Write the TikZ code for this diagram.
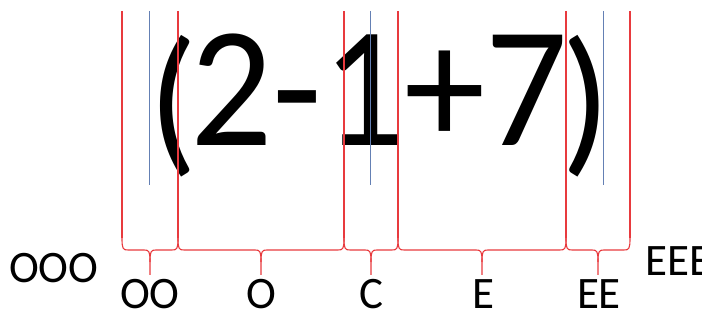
\documentclass[tikz,border=0pt]{standalone}
\usepackage{fontspec}
\setmainfont{Carlito}
\definecolor{bracered}{RGB}{232,58,62}
\definecolor{guideblue}{RGB}{100,128,180}
\newcommand{\bigparen}[1]{{\fontsize{163}{170}\selectfont\raisebox{-9pt}{#1}}}
\begin{document}
\begin{tikzpicture}[x=1pt,y=-1pt,
  redline/.style={draw=bracered,line width=1.1pt},
  blueline/.style={draw=guideblue,line width=0.8pt},
  lbl/.style={inner sep=0pt,font=\fontsize{45}{50}\selectfont},
  bigtxt/.style={inner sep=0pt,font=\fontsize{172}{180}\selectfont}]
\useasboundingbox (0,0) rectangle (702,320);
% big expression
\node[bigtxt,anchor=base west] (expr) at (148,146)
  {\bigparen{(}\kern-7.4pt\scalebox{0.945}[1]{2-1+7}\kern-6.9pt\bigparen{)}};
% guide lines
\foreach \x/\n in {122/a,178/b,344/c,398/d,566/e,630/f}{
  \coordinate (t\n) at (\x,11);
  \coordinate (m\n) at (\x,238);
  \draw[redline] (t\n) -- (m\n);
}
\foreach \x/\n in {149/p,370/q,603/r}{
  \coordinate (bt\n) at (\x,11);
  \coordinate (bb\n) at (\x,185);
  \draw[blueline] (bt\n) -- (bb\n);
}
% braces
\foreach \xa/\xb in {122/178,178/344,344/398,398/566,566/630}{
  \pgfmathsetmacro{\xm}{(\xa+\xb)/2}
  \draw[redline] (\xa,238) .. controls (\xa,249) and (\xa+1,250) .. (\xa+6,250)
    -- (\xm-6,250) .. controls (\xm-1,250) and (\xm,251) .. (\xm,262) -- (\xm,275);
  \draw[redline] (\xb,238) .. controls (\xb,249) and (\xb-1,250) .. (\xb-6,250)
    -- (\xm+6,250) .. controls (\xm+1,250) and (\xm,251) .. (\xm,262);
}
% labels
\node[lbl,anchor=base west] (ooo) at (9,283) {OOO};
\node[lbl,anchor=base] (oo) at (150,309) {OO};
\node[lbl,anchor=base] (o) at (261,309) {O};
\node[lbl,anchor=base] (c) at (371,309) {C};
\node[lbl,anchor=base] (e) at (483,309) {E};
\node[lbl,anchor=base] (ee) at (599,309) {EE};
\node[lbl,anchor=base west] (eee) at (645,276) {EEE};
\end{tikzpicture}
\end{document}
